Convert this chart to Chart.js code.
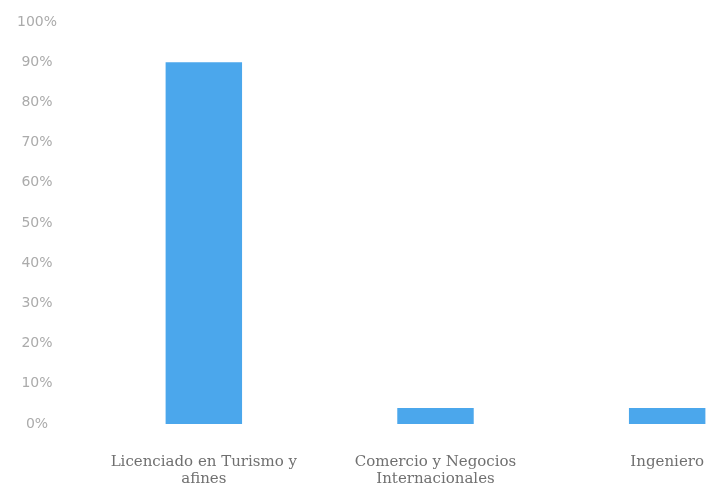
<!DOCTYPE html>
<html>
<head>
<meta charset="utf-8">
<script src="https://cdn.jsdelivr.net/npm/chart.js@4/dist/chart.umd.min.js"></script>
<style>
  html, body { margin: 0; padding: 0; background: #fff; overflow: hidden; }
  #wrap { width: 783px; height: 504px; }
</style>
</head>
<body>
<div id="wrap"><canvas id="chart" width="783" height="504"></canvas></div>
<script>
// Data
const categories = [
  ['Licenciado en Turismo y', 'afines'],
  ['Comercio y Negocios', 'Internacionales'],
  'Ingeniero'
];
const percentValues = [90, 4, 4];
const yTicks = [0, 10, 20, 30, 40, 50, 60, 70, 80, 90, 100];

const barColor = '#4ba7ec';

const ctx = document.getElementById('chart').getContext('2d');
new Chart(ctx, {
  type: 'bar',
  data: {
    labels: categories,
    datasets: [{
      data: percentValues,
      backgroundColor: barColor,
      barPercentage: 0.66,
      categoryPercentage: 0.5
    }]
  },
  options: {
    responsive: false,
    animation: false,
    layout: { padding: { left: 0, top: 22, right: 0, bottom: 0 } },
    plugins: {
      legend: { display: false },
      tooltip: { enabled: false }
    },
    scales: {
      y: {
        min: 0,
        max: 100,
        afterFit: scale => {
          scale.width = 88;
          scale.paddingTop = 0;
        },
        afterBuildTicks: scale => { scale.ticks = yTicks.map(v => ({ value: v })); },
        grid: { display: false },
        border: { display: false },
        ticks: {
          color: '#ababab',
          padding: 23,
          crossAlign: 'center',
          font: { family: 'DejaVu Sans', size: 14 },
          callback: v => v + '%'
        }
      },
      x: {
        afterFit: scale => { scale.height = 80; },
        grid: { display: false },
        border: { display: false },
        ticks: {
          color: '#707070',
          padding: 22,
          maxRotation: 0,
          font: { family: 'DejaVu Serif', size: 15, lineHeight: 1.1 }
        }
      }
    }
  }
});
</script>
</body>
</html>
